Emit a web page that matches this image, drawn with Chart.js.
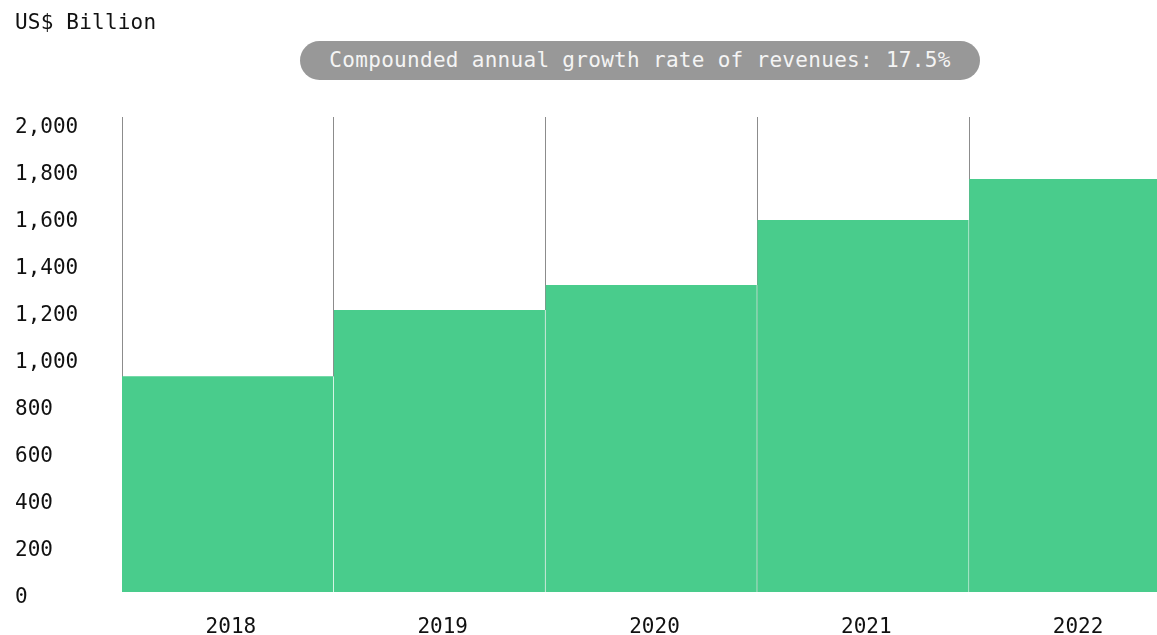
<!DOCTYPE html>
<html lang="en">
  <head>
    <meta charset="UTF-8" />
    <title>Revenues</title>
    <script src="https://cdn.jsdelivr.net/npm/chart.js@4"></script>
    <style>
      html, body { margin: 0; padding: 0; width: 1157px; height: 635px; overflow: hidden; background: #fff; }
      body { position: relative; font-family: "DejaVu Sans Mono", monospace; }
      #wrap { position: absolute; left: 1px; top: 0; width: 1180px; height: 635px; }
      #unit { position: absolute; left: 15px; top: 9px; font-size: 21px; line-height: 26px; color: #111; letter-spacing: 0.2px; }
      #cagr {
        position: absolute; left: 300px; top: 41px; width: 680px; height: 39px;
        border-radius: 20px; background: #989898; color: #f4f4f4;
        font-size: 21px; line-height: 39px; text-align: center; letter-spacing: 0.3px;
      }
    </style>
  </head>
  <body>
    <div id="wrap"><canvas id="chart"></canvas></div>
    <div id="unit">US$ Billion</div>
    <div id="cagr">Compounded annual growth rate of revenues: 17.5%</div>
    <script>
      const years = ["2018", "2019", "2020", "2021", "2022"];
      const revenues = [918, 1199, 1306, 1582, 1756];
      const yTicks = [0, 200, 400, 600, 800, 1000, 1200, 1400, 1600, 1800, 2000];

      Chart.defaults.font.family = "'DejaVu Sans Mono', monospace";
      Chart.defaults.font.size = 21;
      Chart.defaults.color = "#111";

      const ctx = document.getElementById("chart").getContext("2d");
      new Chart(ctx, {
        type: "bar",
        data: {
          labels: years,
          datasets: [
            {
              data: revenues,
              backgroundColor: "#49cc8c",
              borderColor: "#ffffff",
              borderWidth: { left: 0, right: 1, top: 0, bottom: 0 },
              borderSkipped: false,
              barPercentage: 1,
              categoryPercentage: 1,
            },
          ],
        },
        options: {
          responsive: true,
          maintainAspectRatio: false,
          animation: false,
          layout: { padding: { top: 117, left: 14, right: 0, bottom: 0 } },
          plugins: { legend: { display: false }, tooltip: { enabled: false } },
          scales: {
            x: {
              offset: true,
              grid: { display: true, offset: true, color: "#8c8c8c", lineWidth: 1, drawTicks: false },
              border: { display: false },
              ticks: { padding: 23, labelOffset: 3, maxRotation: 0 },
              afterFit: (scale) => { scale.height = 43; },
            },
            y: {
              min: 0,
              max: 2020,
              grid: { display: false },
              border: { display: false },
              ticks: { crossAlign: "far", padding: 0, labelOffset: 6 },
              afterBuildTicks: (scale) => { scale.ticks = yTicks.map((v) => ({ value: v })); },
              afterFit: (scale) => { scale.width = 107; },
            },
          },
        },
      });
    </script>
  </body>
</html>
